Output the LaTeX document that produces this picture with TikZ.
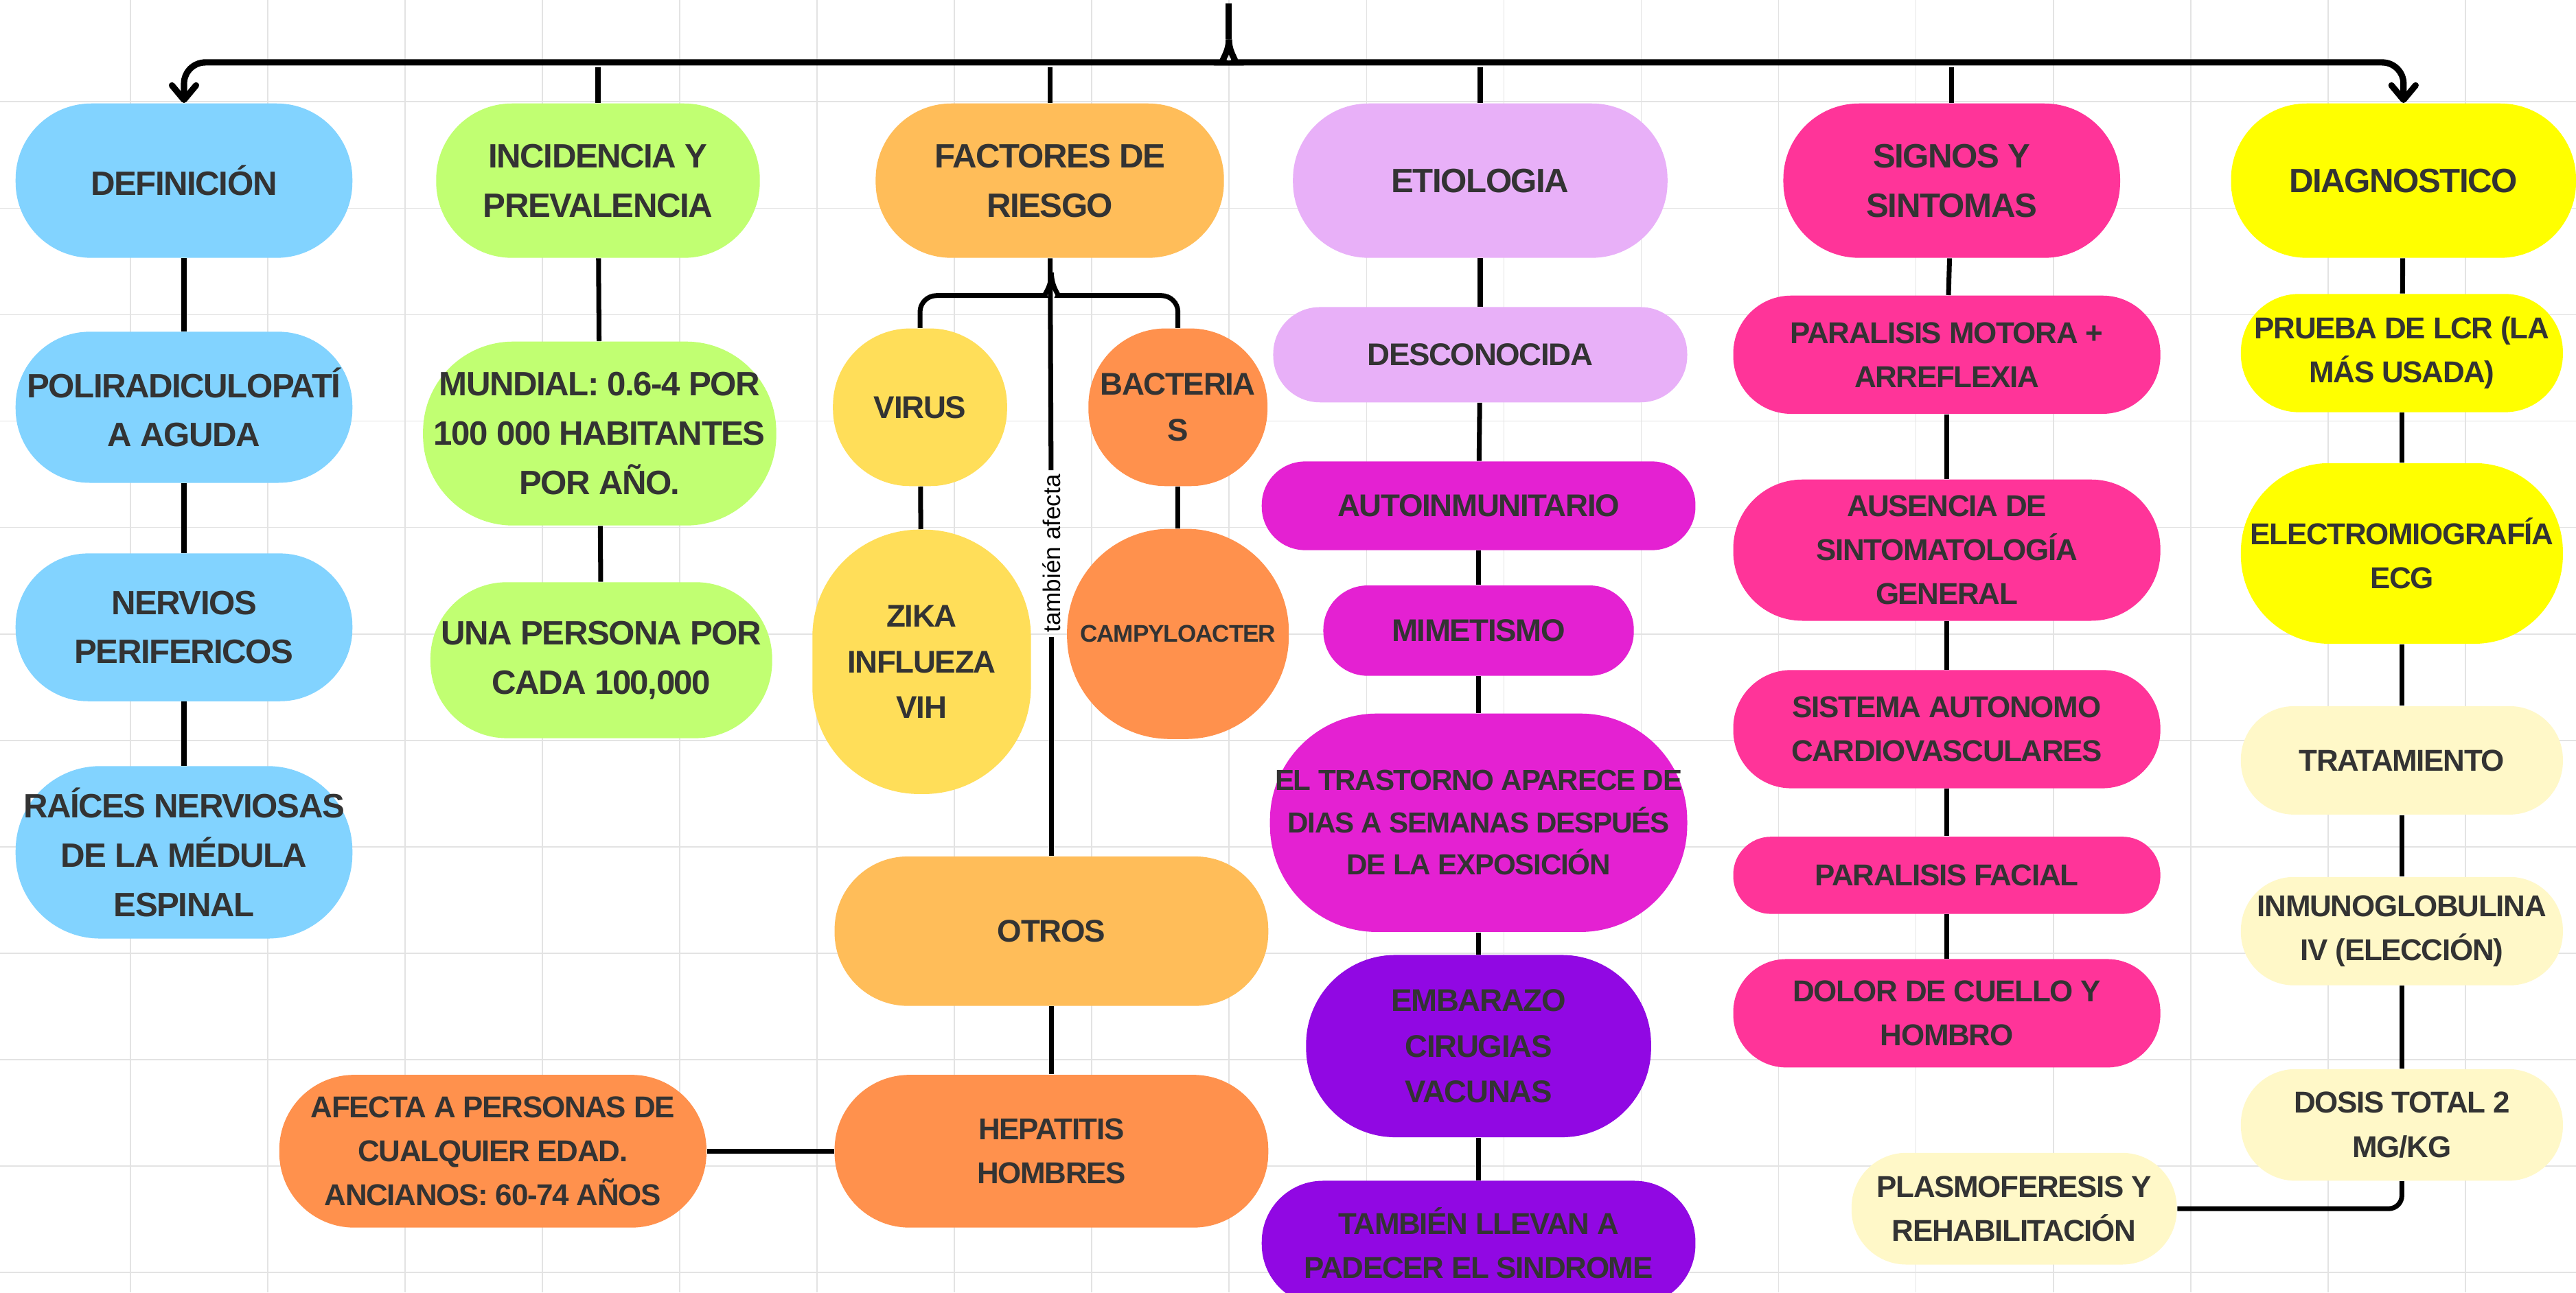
\documentclass[tikz,border=0pt]{standalone}
\usepackage{fontspec}
\usetikzlibrary{arrows.meta}

\newfontfamily\boxfont{Liberation Sans}[LetterSpace=-3]
\newfontfamily\notefont{Liberation Sans}
\newlength\unitpx
\setlength\unitpx{0.02393cm}

\definecolor{ink}{HTML}{333333}
\definecolor{gridgray}{HTML}{E3E3E3}
\definecolor{defblue}{HTML}{82D3FF}
\definecolor{incgreen}{HTML}{C1FF72}
\definecolor{riskamber}{HTML}{FFBD59}
\definecolor{virusgold}{HTML}{FFDE59}
\definecolor{bactorange}{HTML}{FF914D}
\definecolor{etiolilac}{HTML}{E8B0F8}
\definecolor{etiomagenta}{HTML}{E421D2}
\definecolor{etiopurple}{HTML}{9108E3}
\definecolor{signpink}{HTML}{FF3499}
\definecolor{diagyellow}{HTML}{FFFF00}
\definecolor{diagcream}{HTML}{FFF8C8}

\begin{document}
\begin{tikzpicture}[
    x=\unitpx, y=\unitpx, % one unit = one pixel of the sketch
    pill/.style 2 args={rectangle, inner sep=0pt, align=center, text=ink,
        minimum width=#1*\unitpx, minimum height=#2*\unitpx,
        rounded corners={min(#1,#2)*0.49*\unitpx}},
    fs/.style={font=\boxfont\bfseries\fontsize{#1}{\fpeval{1.46*#1}}\selectfont},
    link/.style={line width=2pt, black},
    trunk/.style={line width=2.6pt, black},
    headarrow/.style={-{Straight Barb[length=6pt,width=10pt,round]}},
    gridline/.style={line width=0.5pt, gridgray}
    ]

    \useasboundingbox (0,0) rectangle (1568,-787);
    \clip (0,0) rectangle (1568,-787);
    \fill[white] (0,0) rectangle (1568,-787);
    \foreach \gx in {0,...,18} \draw[gridline] (79.4+83.6*\gx,0) -- ++(0,-787);
    \foreach \gy in {0,...,12} \draw[gridline] (0,-62+64.8-64.8*\gy) -- ++(1568,0);

    % definicion
    \node[pill={205}{94}, fill=defblue, fs=14] (def) at (112,-110) {DEFINICIÓN};
    \node[pill={205}{92}, fill=defblue, fs=14] (poli) at (112,-248) {POLIRADICULOPATÍ\\A AGUDA};
    \node[pill={205}{90}, fill=defblue, fs=14] (nerv) at (112,-382) {NERVIOS\\PERIFERICOS};
    \node[pill={205}{105}, fill=defblue, fs=14] (rai) at (112,-519) {RAÍCES NERVIOSAS\\DE LA MÉDULA\\ESPINAL};

    % incidencia
    \node[pill={197}{94}, fill=incgreen, fs=14] (inc) at (364,-110) {INCIDENCIA Y\\PREVALENCIA};
    \node[pill={215}{112}, fill=incgreen, fs=14] (mund) at (365,-264) {MUNDIAL: 0.6-4 POR\\100 000 HABITANTES\\POR AÑO.};
    \node[pill={208}{95}, fill=incgreen, fs=14] (una) at (366,-402) {UNA PERSONA POR\\CADA 100,000};

    % factores de riesgo
    \node[pill={212}{94}, fill=riskamber, fs=14] (fac) at (639,-110) {FACTORES DE\\RIESGO};
    \node[pill={106}{96}, fill=virusgold, fs=13] (vir) at (560,-248) {VIRUS};
    \node[pill={109}{96}, fill=bactorange, fs=13] (bac) at (717,-248) {BACTERIA\\S};
    \node[pill={133}{161}, fill=virusgold, fs=13] (zika) at (561,-403) {ZIKA\\INFLUEZA\\VIH};
    \node[pill={135}{128}, fill=bactorange, fs=10] (camp) at (717,-386) {CAMPYLOACTER};
    \node[rotate=90, inner sep=1.5pt, font=\notefont\fontsize{10}{12}\selectfont] (tam) at (640,-337) {también afecta};
    \node[pill={264}{91}, fill=riskamber, fs=13] (otr) at (640,-567) {OTROS};
    \node[pill={264}{93}, fill=bactorange, fs=12.5] (hep) at (640,-701) {HEPATITIS\\HOMBRES};
    \node[pill={260}{93}, fill=bactorange, fs=12.5] (afe) at (300,-701) {AFECTA A PERSONAS DE\\CUALQUIER EDAD.\\ANCIANOS: 60-74 AÑOS};

    % etiologia
    \node[pill={228}{94}, fill=etiolilac, fs=14] (eti) at (901,-110) {ETIOLOGIA};
    \node[pill={252}{58}, fill=etiolilac, fs=13] (desc) at (901,-216) {DESCONOCIDA};
    \node[pill={264}{54}, fill=etiomagenta, fs=13] (auto) at (900,-308) {AUTOINMUNITARIO};
    \node[pill={189}{55}, fill=etiomagenta, fs=13] (mim) at (900,-384) {MIMETISMO};
    \node[pill={254}{133}, fill=etiomagenta, fs=12] (tras) at (900,-501) {EL TRASTORNO APARECE DE\\DIAS A SEMANAS DESPUÉS\\DE LA EXPOSICIÓN};
    \node[pill={210}{111}, fill=etiopurple, fs=13] (emb) at (900,-637) {EMBARAZO\\CIRUGIAS\\VACUNAS};
    \node[pill={264}{76}, fill=etiopurple, fs=12.5] (tamb) at (900,-757) {TAMBIÉN LLEVAN A\\PADECER EL SINDROME};

    % signos y sintomas
    \node[pill={205}{94}, fill=signpink, fs=14] (sig) at (1188,-110) {SIGNOS Y\\SINTOMAS};
    \node[pill={260}{72}, fill=signpink, fs=12.5] (pmot) at (1185,-216) {PARALISIS MOTORA +\\ARREFLEXIA};
    \node[pill={260}{86}, fill=signpink, fs=12.5] (aus) at (1185,-335) {AUSENCIA DE\\SINTOMATOLOGÍA\\GENERAL};
    \node[pill={260}{72}, fill=signpink, fs=12.5] (sist) at (1185,-444) {SISTEMA AUTONOMO\\CARDIOVASCULARES};
    \node[pill={260}{47}, fill=signpink, fs=12.5] (pfac) at (1185,-533) {PARALISIS FACIAL};
    \node[pill={260}{66}, fill=signpink, fs=12.5] (dol) at (1185,-617) {DOLOR DE CUELLO Y\\HOMBRO};

    % diagnostico
    \node[pill={210}{94}, fill=diagyellow, fs=14] (diag) at (1463,-110) {DIAGNOSTICO};
    \node[pill={196}{72}, fill=diagyellow, fs=12.5] (lcr) at (1462,-215) {PRUEBA DE LCR (LA\\MÁS USADA)};
    \node[pill={196}{110}, fill=diagyellow, fs=12.5] (emg) at (1462,-337) {ELECTROMIOGRAFÍA\\ECG};
    \node[pill={196}{66}, fill=diagcream, fs=12.5] (trat) at (1462,-463) {TRATAMIENTO};
    \node[pill={196}{66}, fill=diagcream, fs=12.5] (inmu) at (1462,-567) {INMUNOGLOBULINA\\IV (ELECCIÓN)};
    \node[pill={196}{68}, fill=diagcream, fs=12.5] (dosis) at (1462,-685) {DOSIS TOTAL 2\\MG/KG};
    \node[pill={198}{68}, fill=diagcream, fs=12.5] (plas) at (1226,-736) {PLASMOFERESIS Y\\REHABILITACIÓN};

    % top brace
    \coordinate (crest) at (748,-2);
    \coordinate (fork) at (748,-24);
    \coordinate (bar) at (0,-38);
    \draw[trunk] (crest) -- (fork);
    \draw[trunk, headarrow, rounded corners=13*\unitpx] (fork) .. controls (748,-33) and (742,-38) .. (732,-38) -- (def.north |- bar) -- (def.north);
    \draw[trunk, headarrow, rounded corners=13*\unitpx] (fork) .. controls (748,-33) and (754,-38) .. (764,-38) -- (diag.north |- bar) -- (diag.north);
    \draw[link] ([yshift=-2pt]inc.north |- bar) -- (inc.north);
    \draw[link] ([yshift=-2pt]fac.north |- bar) -- (fac.north);
    \draw[link] ([yshift=-2pt]eti.north |- bar) -- (eti.north);
    \draw[link] ([yshift=-2pt]sig.north |- bar) -- (sig.north);

    % columns
    \draw[link] (def) -- (poli);
    \draw[link] (poli) -- (nerv);
    \draw[link] (nerv) -- (rai);

    \draw[link] (inc) -- (mund);
    \draw[link] (mund) -- (una);

    \coordinate (riskfork) at (640,-166);
    \coordinate (riskbar) at (0,-180);
    \draw[link, rounded corners=10*\unitpx] (riskfork) .. controls (640,-175) and (635,-180) .. (626,-180) -- (vir.north |- riskbar) -- (vir.north);
    \draw[link, rounded corners=10*\unitpx] (riskfork) .. controls (640,-175) and (645,-180) .. (654,-180) -- (bac.north |- riskbar) -- (bac.north);
    \draw[link] (vir) -- (zika);
    \draw[link] (bac) -- (camp);
    \draw[link] (fac) -- (tam);
    \draw[link] (tam) -- (otr);
    \draw[link] (otr) -- (hep);
    \draw[link] (hep) -- (afe);

    \draw[link] (eti) -- (desc);
    \draw[link] (desc) -- (auto);
    \draw[link] (auto) -- (mim);
    \draw[link] (mim) -- (tras);
    \draw[link] (tras) -- (emb);
    \draw[link] (emb) -- (tamb);

    \draw[link] (sig) -- (pmot);
    \draw[link] (pmot) -- (aus);
    \draw[link] (aus) -- (sist);
    \draw[link] (sist) -- (pfac);
    \draw[link] (pfac) -- (dol);

    \draw[link] (diag) -- (lcr);
    \draw[link] (lcr) -- (emg);
    \draw[link] (emg) -- (trat);
    \draw[link] (trat) -- (inmu);
    \draw[link] (inmu) -- (dosis);
    \draw[link, rounded corners=8*\unitpx] (dosis) |- (plas);
\end{tikzpicture}
\end{document}
